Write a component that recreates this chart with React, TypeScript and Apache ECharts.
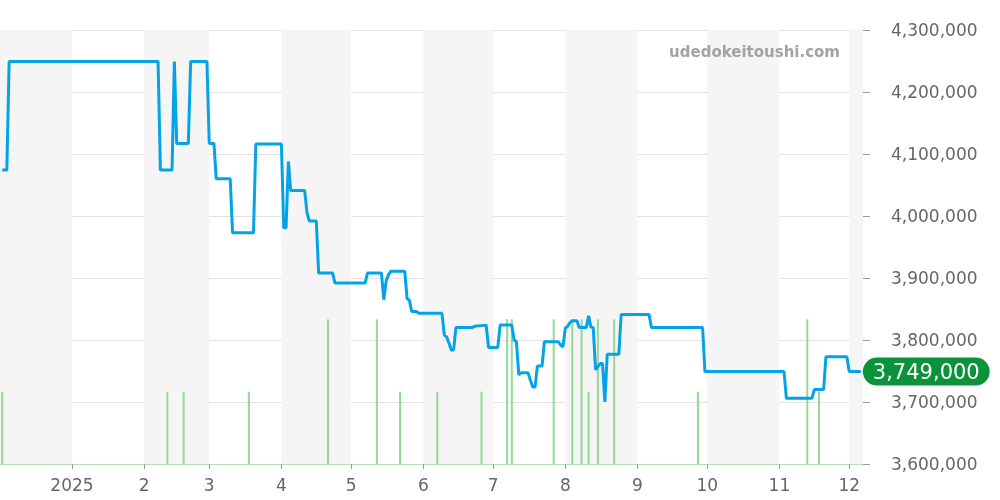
import React, { useEffect, useRef } from 'react';
import * as echarts from 'echarts';

const priceDates: string[] = [
  '2024-12-02', '2024-12-04', '2024-12-05', '2025-02-07', '2025-02-08', '2025-02-13', '2025-02-14', '2025-02-15',
  '2025-02-20', '2025-02-21', '2025-02-28', '2025-03-01', '2025-03-03', '2025-03-04', '2025-03-10', '2025-03-11',
  '2025-03-20', '2025-03-21', '2025-04-01', '2025-04-02', '2025-04-03', '2025-04-04', '2025-04-05', '2025-04-11',
  '2025-04-12', '2025-04-13', '2025-04-16', '2025-04-17', '2025-04-23', '2025-04-24', '2025-05-07', '2025-05-08',
  '2025-05-14', '2025-05-15', '2025-05-16', '2025-05-17', '2025-05-18', '2025-05-24', '2025-05-25', '2025-05-26',
  '2025-05-27', '2025-05-29', '2025-05-30', '2025-06-09', '2025-06-10', '2025-06-11', '2025-06-12', '2025-06-13',
  '2025-06-14', '2025-06-15', '2025-06-22', '2025-06-23', '2025-06-28', '2025-06-29', '2025-07-03', '2025-07-04',
  '2025-07-09', '2025-07-10', '2025-07-11', '2025-07-12', '2025-07-13', '2025-07-16', '2025-07-17', '2025-07-18',
  '2025-07-19', '2025-07-20', '2025-07-22', '2025-07-23', '2025-07-29', '2025-07-30', '2025-07-31', '2025-08-01',
  '2025-08-02', '2025-08-03', '2025-08-04', '2025-08-06', '2025-08-07', '2025-08-10', '2025-08-11', '2025-08-12',
  '2025-08-13', '2025-08-14', '2025-08-15', '2025-08-16', '2025-08-17', '2025-08-18', '2025-08-19', '2025-08-24',
  '2025-08-25', '2025-09-06', '2025-09-07', '2025-09-29', '2025-09-30', '2025-11-03', '2025-11-04', '2025-11-15',
  '2025-11-16', '2025-11-20', '2025-11-21', '2025-11-30', '2025-12-01', '2025-12-06',
];

const priceValues: number[] = [
  4074000, 4074000, 4249000, 4249000, 4074000, 4074000, 4249000, 4117000,
  4117000, 4249000, 4249000, 4117000, 4117000, 4060000, 4060000, 3973000,
  3973000, 4116000, 4116000, 3981000, 3981000, 4088000, 4041000, 4041000,
  4005000, 3992000, 3992000, 3908000, 3908000, 3892000, 3892000, 3908000,
  3908000, 3865000, 3895000, 3905000, 3911000, 3911000, 3867000, 3864000,
  3846000, 3846000, 3843000, 3843000, 3808000, 3805000, 3795000, 3784000,
  3784000, 3820000, 3820000, 3822000, 3824000, 3788000, 3788000, 3824000,
  3824000, 3800000, 3797000, 3744000, 3747000, 3747000, 3735000, 3724000,
  3724000, 3758000, 3758000, 3797000, 3797000, 3792000, 3789000, 3819000,
  3822000, 3828000, 3831000, 3831000, 3820000, 3820000, 3839000, 3821000,
  3820000, 3752000, 3757000, 3762000, 3762000, 3700000, 3777000, 3777000,
  3841000, 3841000, 3820000, 3820000, 3749000, 3749000, 3706000, 3706000,
  3720000, 3720000, 3773000, 3773000, 3749000, 3749000,
];

const volumeDates: string[] = [
  '2024-12-02', '2025-02-11', '2025-02-18', '2025-03-18', '2025-04-21', '2025-05-12', '2025-05-22',
  '2025-06-07', '2025-06-26', '2025-07-07', '2025-07-09', '2025-07-27', '2025-08-04', '2025-08-08',
  '2025-08-11', '2025-08-15', '2025-08-22', '2025-09-27', '2025-11-13', '2025-11-18',
];

const volumeValues: number[] = [
  1, 1, 1, 1, 2, 2, 1,
  1, 1, 2, 2, 2, 2, 2,
  1, 2, 2, 1, 2, 1,
];

const yMin = 3600000;
const yMax = 4300000;
const yStep = 100000;
const xStart = '2024-12-01T12:00:00';
const xEnd = '2025-12-06T12:00:00';
const watermark = 'udedokeitoushi.com';

const FONT = 'DejaVu Sans';

export default function App() {
  const ref = useRef<HTMLDivElement>(null);

  useEffect(() => {
    if (!ref.current) return;
    const chart = echarts.init(ref.current, undefined, { renderer: 'svg' });

    const priceData = priceDates.map((d, i) => [d, priceValues[i]]);
    const volumeData = volumeDates.map((d, i) => [d, volumeValues[i]]);

    chart.setOption({
      animation: false,
      textStyle: { fontFamily: FONT },
      grid: { left: 0, right: 137, top: 30, bottom: 36 },
      xAxis: {
        type: 'time',
        min: xStart,
        max: xEnd,
        splitNumber: 12,
        minInterval: 28 * 86400000,
        axisLine: { show: true, lineStyle: { color: '#b5d9b5', type: 'dotted', width: 1 } },
        axisTick: { show: true, length: 5, lineStyle: { color: '#999' } },
        axisLabel: {
          color: '#666',
          fontSize: 17,
          margin: 12,
          fontFamily: FONT,
          showMinLabel: false,
          showMaxLabel: false,
          formatter: (v: number) => {
            const d = new Date(v);
            return d.getMonth() === 0 ? String(d.getFullYear()) : String(d.getMonth() + 1);
          },
        },
        splitLine: { show: false },
        splitArea: { show: true, areaStyle: { color: ['#f5f5f5', 'rgba(255,255,255,0)'] } },
      },
      yAxis: [
        {
          type: 'value',
          position: 'right',
          min: yMin,
          max: yMax,
          interval: yStep,
          axisLine: { show: false },
          axisTick: { show: true, length: 7, lineStyle: { color: '#999' } },
          axisLabel: {
            color: '#666',
            fontSize: 17,
            margin: 28,
            fontFamily: FONT,
            formatter: (v: number) => v.toLocaleString('en-US'),
          },
          splitLine: { show: true, lineStyle: { color: '#e2e2e2' } },
        },
        {
          type: 'value',
          min: 0,
          max: 6,
          show: false,
          splitLine: { show: false },
        },
      ],
      graphic: [
        {
          type: 'text',
          right: 160,
          top: 44,
          z: 100,
          zlevel: 0,
          silent: true,
          style: {
            text: watermark,
            fill: '#a3a3a3',
            font: `bold 15px "${FONT}"`,
          },
        },
      ],
      series: [
        {
          type: 'bar',
          yAxisIndex: 1,
          data: volumeData,
          barWidth: 2,
          itemStyle: { color: '#93d993' },
          silent: true,
        },
        {
          type: 'line',
          data: priceData,
          showSymbol: false,
          symbol: 'none',
          lineStyle: { color: '#04a3e8', width: 3 },
          itemStyle: { color: '#04a3e8' },
          endLabel: {
            show: true,
            distance: 2,
            formatter: (p: any) => Number(p.value[1]).toLocaleString('en-US'),
            color: '#fff',
            fontSize: 21,
            fontFamily: FONT,
            backgroundColor: '#0b933b',
            borderRadius: 16,
            padding: [4, 10, 3, 10],
          },
        },
      ],
    });

    return () => chart.dispose();
  }, []);

  return (
    <div
      ref={ref}
      style={{ position: 'fixed', left: 0, top: 0, width: 1000, height: 500 }}
    />
  );
}
